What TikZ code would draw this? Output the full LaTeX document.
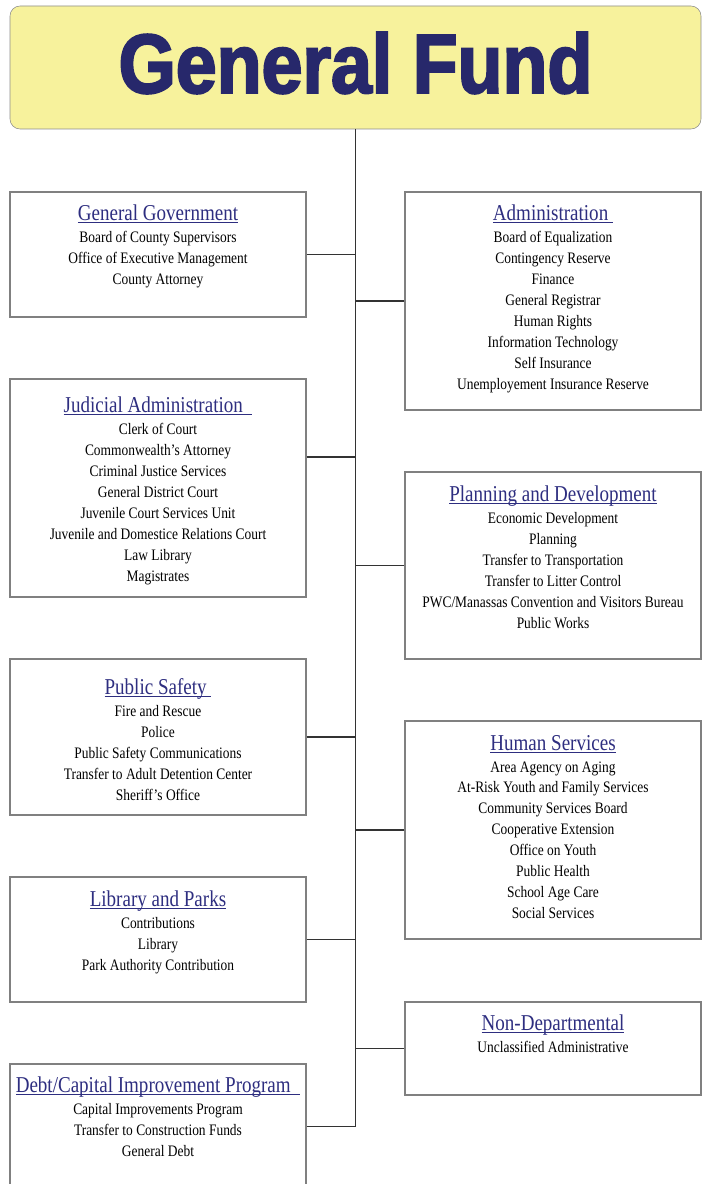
\documentclass[tikz,border=0pt]{standalone}
\usepackage{fontspec}
\setmainfont{Liberation Serif}[FakeStretch=0.84]
\newfontfamily\titlefont{Liberation Sans}[FakeStretch=0.875,BoldFeatures={FakeBold=2.5}]
\usetikzlibrary{positioning}
\definecolor{fundyellow}{HTML}{F7F29C}
\definecolor{fundnavy}{HTML}{27286B}
\definecolor{headnavy}{HTML}{2E2E80}
% underline at a fixed depth below the baseline
\newcommand\deptul[1]{\setbox0\hbox{#1}\rlap{\rule[-1.6pt]{\wd0}{0.7pt}}\box0}

\begin{document}
\begin{tikzpicture}[
  x=0.75pt, y=-0.75pt,
  fundbox/.style={
    rectangle, rounded corners=7.5pt, draw=black!45, fill=fundyellow,
    minimum width=518.25pt, minimum height=92.25pt, text depth=7.5pt,
    text=fundnavy, font=\titlefont\bfseries\fontsize{63}{63}\selectfont
  },
  deptbox/.style={
    rectangle, draw=black!50, line width=0.8pt, fill=white,
    minimum width=222pt, inner sep=0pt
  },
  depthead/.style={
    inner sep=0pt, anchor=base, text height=12pt, text depth=3pt,
    text=headnavy, font=\fontsize{17}{20}\selectfont
  },
  deptlist/.style={
    inner sep=0pt, align=center, font=\fontsize{12}{15.7}\selectfont
  },
  link/.style={draw=black!80, line width=1pt}
  ]
  \useasboundingbox (0,0) rectangle (707,1184);

  \node[fundbox] (fund) at (355.5,67.5) {General Fund};

  % left column
  \node[deptbox, minimum height=93.75pt] (gg) at (158,254.5) {};
  \node[deptbox, minimum height=163.5pt] (jud) at (158,488) {};
  \node[deptbox, minimum height=117pt] (ps) at (158,737) {};
  \node[deptbox, minimum height=93.75pt] (lib) at (158,939.5) {};
  \node[deptbox, minimum height=93.75pt] (debt) at (158,1126.5) {};

  % right column
  \node[deptbox, minimum height=163.5pt] (adm) at (553,301) {};
  \node[deptbox, minimum height=140.25pt] (plan) at (553,565.5) {};
  \node[deptbox, minimum height=163.5pt] (hum) at (553,830) {};
  \node[deptbox, minimum height=69.75pt] (nondep) at (553,1048.5) {};

  % headings and lists
  \node[depthead] (gg-head) at ([yshift=-21.75pt]gg.north) {\deptul{General Government}};
  \node[deptlist, below=4.8pt of gg-head] (gg-list) {Board of County Supervisors\\
    Office of Executive Management\\ County Attorney};

  \node[depthead] (jud-head) at ([yshift=-25.5pt]jud.north) {\deptul{Judicial Administration\ \ }};
  \node[deptlist, below=4.8pt of jud-head] (jud-list) {Clerk of Court\\
    Commonwealth's Attorney\\ Criminal Justice Services\\ General District Court\\
    Juvenile Court Services Unit\\ Juvenile and Domestice Relations Court\\
    Law Library\\ Magistrates};

  \node[depthead] (ps-head) at ([yshift=-27pt]ps.north) {\deptul{Public Safety\ }};
  \node[deptlist, below=4.8pt of ps-head] (ps-list) {Fire and Rescue\\ Police\\
    Public Safety Communications\\ Transfer to Adult Detention Center\\
    Sheriff's Office};

  \node[depthead] (lib-head) at ([yshift=-22.5pt]lib.north) {\deptul{Library and Parks}};
  \node[deptlist, below=4.8pt of lib-head] (lib-list) {Contributions\\ Library\\
    Park Authority Contribution};

  \node[depthead] (debt-head) at ([yshift=-21.75pt]debt.north) {\deptul{Debt/Capital Improvement Program\ \ }};
  \node[deptlist, below=4.8pt of debt-head] (debt-list) {Capital Improvements Program\\
    Transfer to Construction Funds\\ General Debt};

  \node[depthead] (adm-head) at ([yshift=-21.75pt]adm.north) {\deptul{Administration\ }};
  \node[deptlist, below=4.8pt of adm-head] (adm-list) {Board of Equalization\\
    Contingency Reserve\\ Finance\\ General Registrar\\ Human Rights\\
    Information Technology\\ Self Insurance\\ Unemployement Insurance Reserve};

  \node[depthead] (plan-head) at ([yshift=-22.5pt]plan.north) {\deptul{Planning and Development}};
  \node[deptlist, below=4.8pt of plan-head] (plan-list) {Economic Development\\ Planning\\
    Transfer to Transportation\\ Transfer to Litter Control\\
    PWC/Manassas Convention and Visitors Bureau\\ Public Works};

  \node[depthead] (hum-head) at ([yshift=-22.5pt]hum.north) {\deptul{Human Services}};
  \node[deptlist, below=4.8pt of hum-head] (hum-list) {Area Agency on Aging\\
    At-Risk Youth and Family Services\\ Community Services Board\\
    Cooperative Extension\\ Office on Youth\\ Public Health\\ School Age Care\\
    Social Services};

  \node[depthead] (nondep-head) at ([yshift=-21.75pt]nondep.north) {\deptul{Non-Departmental}};
  \node[deptlist, below=4.8pt of nondep-head] (nondep-list) {Unclassified Administrative};

  % connectors
  \draw[link] (fund.south) -- (debt.east -| fund.south);
  \foreach \b in {gg,ps,lib,debt}
    \draw[link] (\b.east) -- (\b.east -| fund.south);
  \draw[link] ([yshift=23.25pt]jud.east) -- ([yshift=23.25pt]jud.east -| fund.south);
  \foreach \b in {adm,plan,hum,nondep}
    \draw[link] (\b.west) -- (\b.west -| fund.south);
\end{tikzpicture}
\end{document}
